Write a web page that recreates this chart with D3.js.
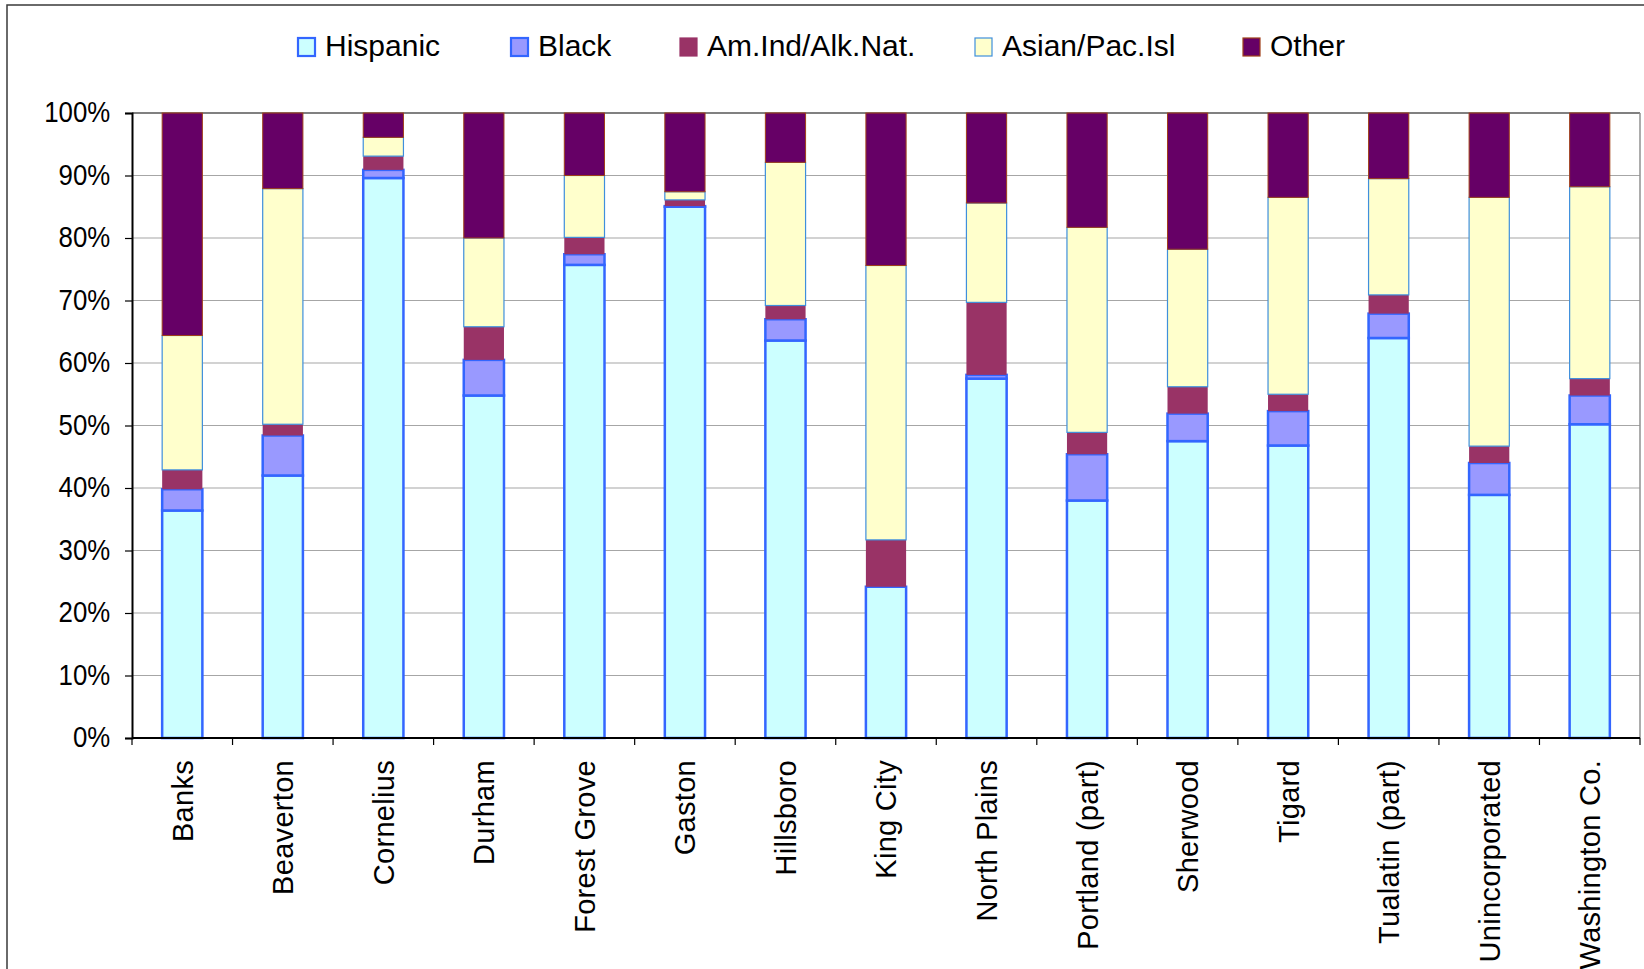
<!DOCTYPE html>
<html>
<head>
<meta charset="utf-8">
<script src="https://cdn.jsdelivr.net/npm/d3@7"></script>
<style>
  body { margin: 0; background: #fff; }
  text { font-family: "Liberation Sans", Arial, sans-serif; fill: #000; }
</style>
</head>
<body>
<div id="chart"></div>
<script>
// values in percent
var categories = ["Banks", "Beaverton", "Cornelius", "Durham", "Forest Grove", "Gaston",
    "Hillsboro", "King City", "North Plains", "Portland (part)", "Sherwood", "Tigard",
    "Tualatin (part)", "Unincorporated", "Washington Co."];

var hispanic = [36.4, 42.0, 89.6, 54.8, 75.7, 85.0, 63.6, 24.2, 57.5, 38.0, 47.5, 46.8, 64.0, 38.9, 50.2];
var black    = [3.4, 6.4, 1.3, 5.7, 1.7, 0.1, 3.4, 0.0, 0.6, 7.4, 4.4, 5.5, 3.9, 5.1, 4.6];
var amInd    = [3.1, 1.8, 2.2, 5.3, 2.7, 1.0, 2.2, 7.5, 11.6, 3.5, 4.3, 2.7, 3.0, 2.7, 2.7];
var asian    = [21.5, 37.7, 3.0, 14.2, 9.9, 1.3, 22.9, 43.9, 15.9, 32.8, 22.0, 31.5, 18.6, 39.8, 30.7];
var other    = [35.6, 12.1, 3.9, 20.0, 10.0, 12.6, 7.9, 24.4, 14.4, 18.3, 21.8, 13.5, 10.5, 13.5, 11.8];

var seriesNames = ["Hispanic", "Black", "Am.Ind/Alk.Nat.", "Asian/Pac.Isl", "Other"];
var yTicks = [0, 10, 20, 30, 40, 50, 60, 70, 80, 90, 100];

// look of each series (fill, stroke, stroke width)
var styles = [
    { fill: "#ccffff", stroke: "#3366ff", sw: 2.5 },
    { fill: "#9999ff", stroke: "#3366ff", sw: 2.5 },
    { fill: "#993366", stroke: "#993366", sw: 0 },
    { fill: "#ffffcc", stroke: "#3f8fdc", sw: 1.2 },
    { fill: "#660066", stroke: "#a0401a", sw: 1 }
];
var legendX = [297, 510, 679, 974, 1242];

const W = 1644, H = 969;
const plot = { left: 132, right: 1640, top: 113, bottom: 738 };

let svg = d3.select('#chart').append('svg')
    .attr('width', W)
    .attr('height', H);

svg.append('rect').attr('width', W).attr('height', H).style('fill', '#fff');

// outer chart border (runs off the picture on right and bottom)
svg.append('path')
    .attr('d', 'M7,' + (H + 5) + 'V5H' + (W + 5))
    .style('fill', 'none')
    .style('stroke', '#3a3a3a')
    .style('stroke-width', 1.5);

// build rows for the stack
let rows = categories.map(function (c, i) {
    return { cat: c, s0: hispanic[i], s1: black[i], s2: amInd[i], s3: asian[i], s4: other[i] };
});
let stacked = d3.stack().keys(["s0", "s1", "s2", "s3", "s4"])(rows);

let x = d3.scaleBand()
    .domain(categories)
    .range([plot.left, plot.right])
    .paddingInner(0.6)
    .paddingOuter(0.3);

let y = d3.scaleLinear()
    .domain([0, 100])
    .range([plot.bottom, plot.top]);

// gridlines
svg.append('g')
    .selectAll('line')
    .data(yTicks.filter(function (d) { return d > 0; }))
    .join('line')
    .attr('x1', plot.left)
    .attr('x2', plot.right)
    .attr('y1', function (d) { return y(d); })
    .attr('y2', function (d) { return y(d); })
    .style('stroke', function (d) { return d === 100 ? '#808080' : '#a6a6a6'; })
    .style('stroke-width', function (d) { return d === 100 ? 2 : 1.2; });

// right edge of plot area
svg.append('line')
    .attr('x1', plot.right).attr('x2', plot.right)
    .attr('y1', plot.top).attr('y2', plot.bottom)
    .style('stroke', '#909090')
    .style('stroke-width', 1.5);

// bars
let layers = svg.append('g')
    .selectAll('g')
    .data(stacked)
    .join('g');

layers.selectAll('rect')
    .data(function (d) {
        return d.map(function (v) { return { v: v, k: d.index }; })
            .filter(function (e) { return e.v[1] - e.v[0] > 0; });
    })
    .join('rect')
    .attr('x', function (d) { return x(d.v.data.cat); })
    .attr('width', x.bandwidth())
    .attr('y', function (d) { return y(d.v[1]); })
    .attr('height', function (d) { return y(d.v[0]) - y(d.v[1]); })
    .style('fill', function (d) { return styles[d.k].fill; })
    .style('stroke', function (d) { return styles[d.k].stroke; })
    .style('stroke-width', function (d) { return styles[d.k].sw; });

// y axis
let yAxis = svg.append('g')
    .attr('transform', 'translate(' + plot.left + ',0)')
    .call(d3.axisLeft(y).tickValues(yTicks).tickSize(7).tickPadding(0)
        .tickFormat(function (d) { return d + '%'; }));
yAxis.select('.domain').style('stroke', '#000').style('stroke-width', 2);
yAxis.selectAll('.tick line').style('stroke', '#000').style('stroke-width', 1.2);
yAxis.selectAll('.tick text')
    .attr('x', -24.5)
    .attr('dy', '0.3em')
    .attr('transform', 'scale(0.89,1)')
    .style('font-size', '29px')
    .style('font-family', '"Liberation Sans", Arial, sans-serif');

// x axis line with ticks between categories
svg.append('line')
    .attr('x1', plot.left).attr('x2', plot.right)
    .attr('y1', plot.bottom).attr('y2', plot.bottom)
    .style('stroke', '#000')
    .style('stroke-width', 2);

let step = x.step();
svg.append('g')
    .selectAll('line')
    .data(d3.range(categories.length + 1))
    .join('line')
    .attr('x1', function (i) { return plot.left + i * step; })
    .attr('x2', function (i) { return plot.left + i * step; })
    .attr('y1', plot.bottom)
    .attr('y2', plot.bottom + 7)
    .style('stroke', '#000')
    .style('stroke-width', 1.2);

// category labels, rotated
svg.append('g')
    .selectAll('text')
    .data(categories)
    .join('text')
    .attr('transform', function (d) {
        return 'translate(' + (x(d) + x.bandwidth() / 2) + ',' + 760 + ') rotate(-90)';
    })
    .attr('text-anchor', 'end')
    .attr('dy', '0.36em')
    .style('font-size', '29px')
    .style('letter-spacing', '0.3px')
    .text(function (d) { return d; });

// legend
let legend = svg.append('g');
seriesNames.forEach(function (name, i) {
    legend.append('rect')
        .attr('x', legendX[i] + 1)
        .attr('y', 38)
        .attr('width', 17)
        .attr('height', 18)
        .style('fill', styles[i].fill)
        .style('stroke', styles[i].stroke)
        .style('stroke-width', i < 2 ? 2.2 : 1.2);
    legend.append('text')
        .attr('x', legendX[i] + 28)
        .attr('y', 55.5)
        .style('font-size', '30px')
        .text(name);
});
</script>
</body>
</html>
